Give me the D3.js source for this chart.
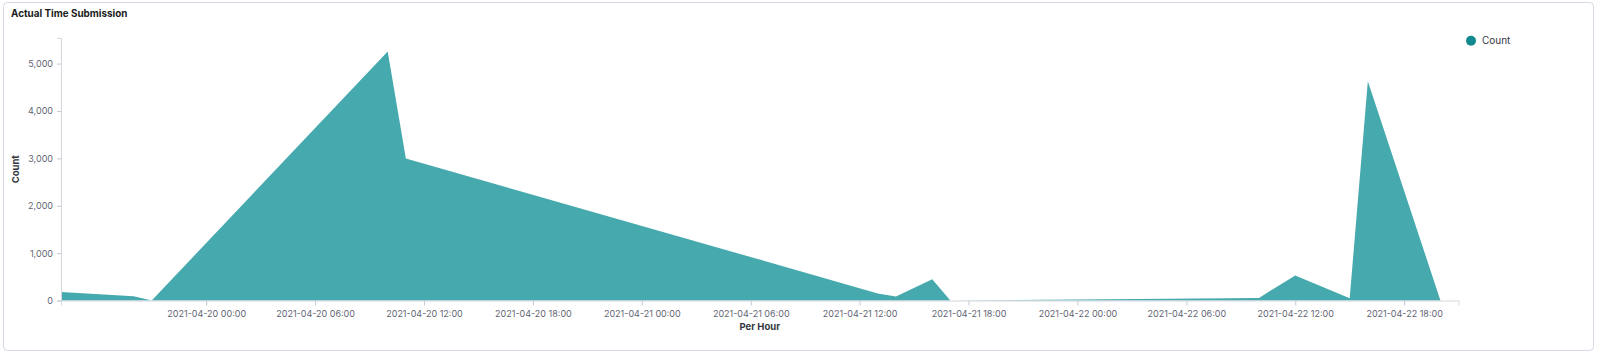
<!DOCTYPE html>
<html>
<head>
<meta charset="utf-8">
<script src="https://cdn.jsdelivr.net/npm/d3@7"></script>
<style>
  body { margin: 0; background: #fff; font-family: Inter, "Noto Sans", sans-serif; }
  svg { display: block; }
  .tick text { fill: #5f6573; font-size: 9px; font-family: Inter, sans-serif; }
  .tick line { stroke: #c5cad3; }
  .domain { stroke: #d3d8df; }
  .label_title { fill: #343741; font-size: 9.5px; font-weight: 700; text-anchor: middle; }
</style>
</head>
<body>
<svg id="chart"></svg>
<script>
// hourly buckets that have data (area connects them)
let times = ["2021-04-19 16:00", "2021-04-19 20:00", "2021-04-19 21:00", "2021-04-20 10:00",
  "2021-04-20 11:00", "2021-04-21 13:00", "2021-04-21 14:00", "2021-04-21 16:00",
  "2021-04-21 17:00", "2021-04-22 10:00", "2021-04-22 12:00", "2021-04-22 15:00",
  "2021-04-22 16:00", "2021-04-22 20:00"]
let counts = [177, 88, 0, 5257, 2998, 150, 84, 450, 0, 55, 526, 50, 4625, 0]
let x_ticks = ["2021-04-20 00:00", "2021-04-20 06:00", "2021-04-20 12:00", "2021-04-20 18:00",
  "2021-04-21 00:00", "2021-04-21 06:00", "2021-04-21 12:00", "2021-04-21 18:00",
  "2021-04-22 00:00", "2021-04-22 06:00", "2021-04-22 12:00", "2021-04-22 18:00"]
let y_ticks = [0, 1000, 2000, 3000, 4000, 5000]
let x_range = ["2021-04-19 16:00", "2021-04-22 21:00"]

let width = 1600,
  height = 354,
  margins = {left: 61, right: 141.4, top: 38, bottom: 53.5};

let parse = d3.utcParse("%Y-%m-%d %H:%M")
let data = times.map((t, i) => ({time: parse(t), count: counts[i]}))

let svg = d3.select("#chart").attr("width", width).attr("height", height)

// panel frame
svg.append("rect")
  .attr("x", 3.5).attr("y", 2.5)
  .attr("width", 1590).attr("height", 348)
  .attr("rx", 4)
  .attr("fill", "#fff")
  .attr("stroke", "#d3dae6")

svg.append("text")
  .text("Actual Time Submission")
  .attr("x", 11).attr("y", 17)
  .attr("fill", "#1a1c21")
  .attr("font-size", "9.9px")
  .attr("font-weight", 700)

let x = d3.scaleUtc()
  .domain(x_range.map(parse))
  .range([margins.left, width - margins.right])
let y = d3.scaleLinear()
  .domain([0, 5540])
  .range([height - margins.bottom, margins.top])

let area = d3.area()
  .x(d => x(d.time))
  .y0(y(0))
  .y1(d => y(d.count))

svg.append("path")
  .datum(data)
  .attr("d", area)
  .attr("fill", "#45a9ae")

let x_axis = svg.append("g")
  .attr("transform", `translate(0, ${height - margins.bottom})`)
  .call(d3.axisBottom(x)
    .tickValues(x_ticks.map(parse))
    .tickFormat(d3.utcFormat("%Y-%m-%d %H:%M"))
    .tickSizeOuter(0)
    .tickSize(5)
    .tickPadding(5))
let y_axis = svg.append("g")
  .attr("transform", `translate(${margins.left}, 0)`)
  .call(d3.axisLeft(y)
    .tickValues(y_ticks)
    .tickFormat(d3.format(","))
    .tickSizeOuter(0)
    .tickSize(4)
    .tickPadding(4))

svg.append("text")
  .text("Per Hour")
  .attr("class", "label_title")
  .attr("x", (margins.left + width - margins.right) / 2)
  .attr("y", 330)
svg.append("text")
  .text("Count")
  .attr("class", "label_title")
  .attr("font-size", "9px")
  .attr("transform", `translate(19, ${(margins.top + height - margins.bottom) / 2}) rotate(-90)`)

// legend
let legend = svg.append("g").attr("transform", "translate(1471, 40.7)")
legend.append("circle").attr("r", 5).attr("fill", "#11898f")
legend.append("text")
  .text("Count")
  .attr("x", 11).attr("y", 3.5)
  .attr("fill", "#343741")
  .attr("font-size", "10px")
</script>
</body>
</html>
